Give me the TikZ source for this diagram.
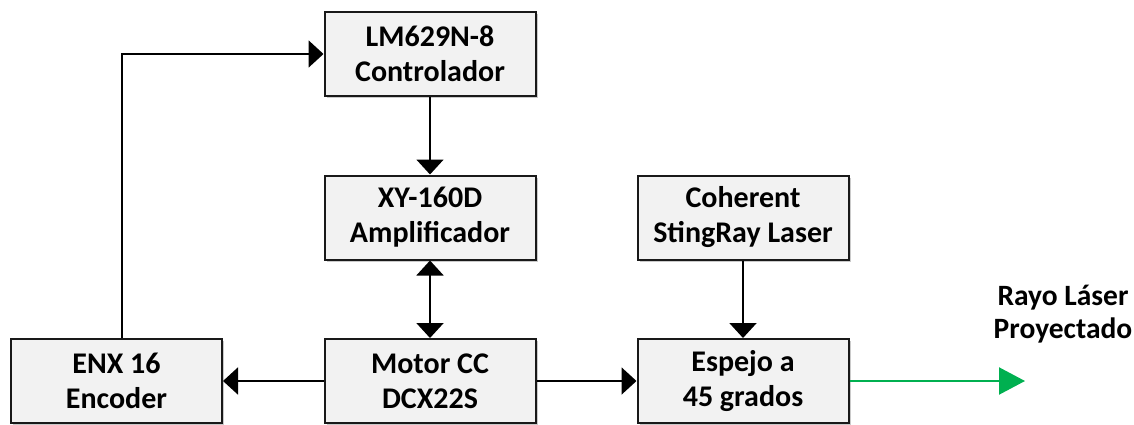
\documentclass[tikz,border=0pt]{standalone}
\usepackage{fontspec}
\setmainfont{Carlito}
\usetikzlibrary{arrows.meta,shadows}
\definecolor{boxfill}{HTML}{F2F2F2}
\definecolor{laser}{HTML}{00B050}
\begin{document}
\begin{tikzpicture}[x=1pt,y=-1pt,
  blk/.style={draw=black!90, line width=2pt, fill=boxfill,
    minimum width=211pt, minimum height=84pt, inner sep=0pt, align=center,
    font=\fontsize{30}{35}\selectfont\bfseries,
    drop shadow={shadow xshift=2pt,shadow yshift=-2pt,opacity=0.35,fill=black!60}},
  conn/.style={line width=2pt, -{Triangle[length=15pt,width=27pt]}},
  dconn/.style={line width=2pt, {Triangle[length=15pt,width=27pt]}-{Triangle[length=15pt,width=27pt]}},
  beam/.style={line width=2.2pt, draw=laser, -{Triangle[length=26pt,width=27pt]}},
  lbl/.style={align=center, font=\fontsize{29.5}{33}\selectfont\bfseries},
]
\useasboundingbox (0,0) rectangle (1134,425);
\node[blk] (ctrl) at (430,54) {LM629N-8\\Controlador};
\node[blk] (amp) at (430,217.5) {XY-160D\\Amplificador};
\node[blk] (motor) at (430,381) {Motor CC\\DCX22S};
\node[blk] (enc) at (116.5,381) {ENX 16\\Encoder};
\node[blk] (coh) at (743,217.5) {Coherent\\StingRay Laser};
\node[blk] (esp) at (743,381) {Espejo a\\45 grados};
\node[lbl] (ray) at (1063,314) {Rayo Láser\\Proyectado};
\coordinate (rayend) at (1025,381);

\draw[conn] (ctrl) -- (amp);
\draw[dconn] (amp) -- (motor);
\draw[conn] (motor) -- (enc);
\draw[conn] (motor) -- (esp);
\draw[conn] (coh) -- (esp);
\draw[conn] ([xshift=5.5pt]enc.north) |- (ctrl.west);
\draw[beam] (esp.east) -- (rayend);
\end{tikzpicture}
\end{document}
